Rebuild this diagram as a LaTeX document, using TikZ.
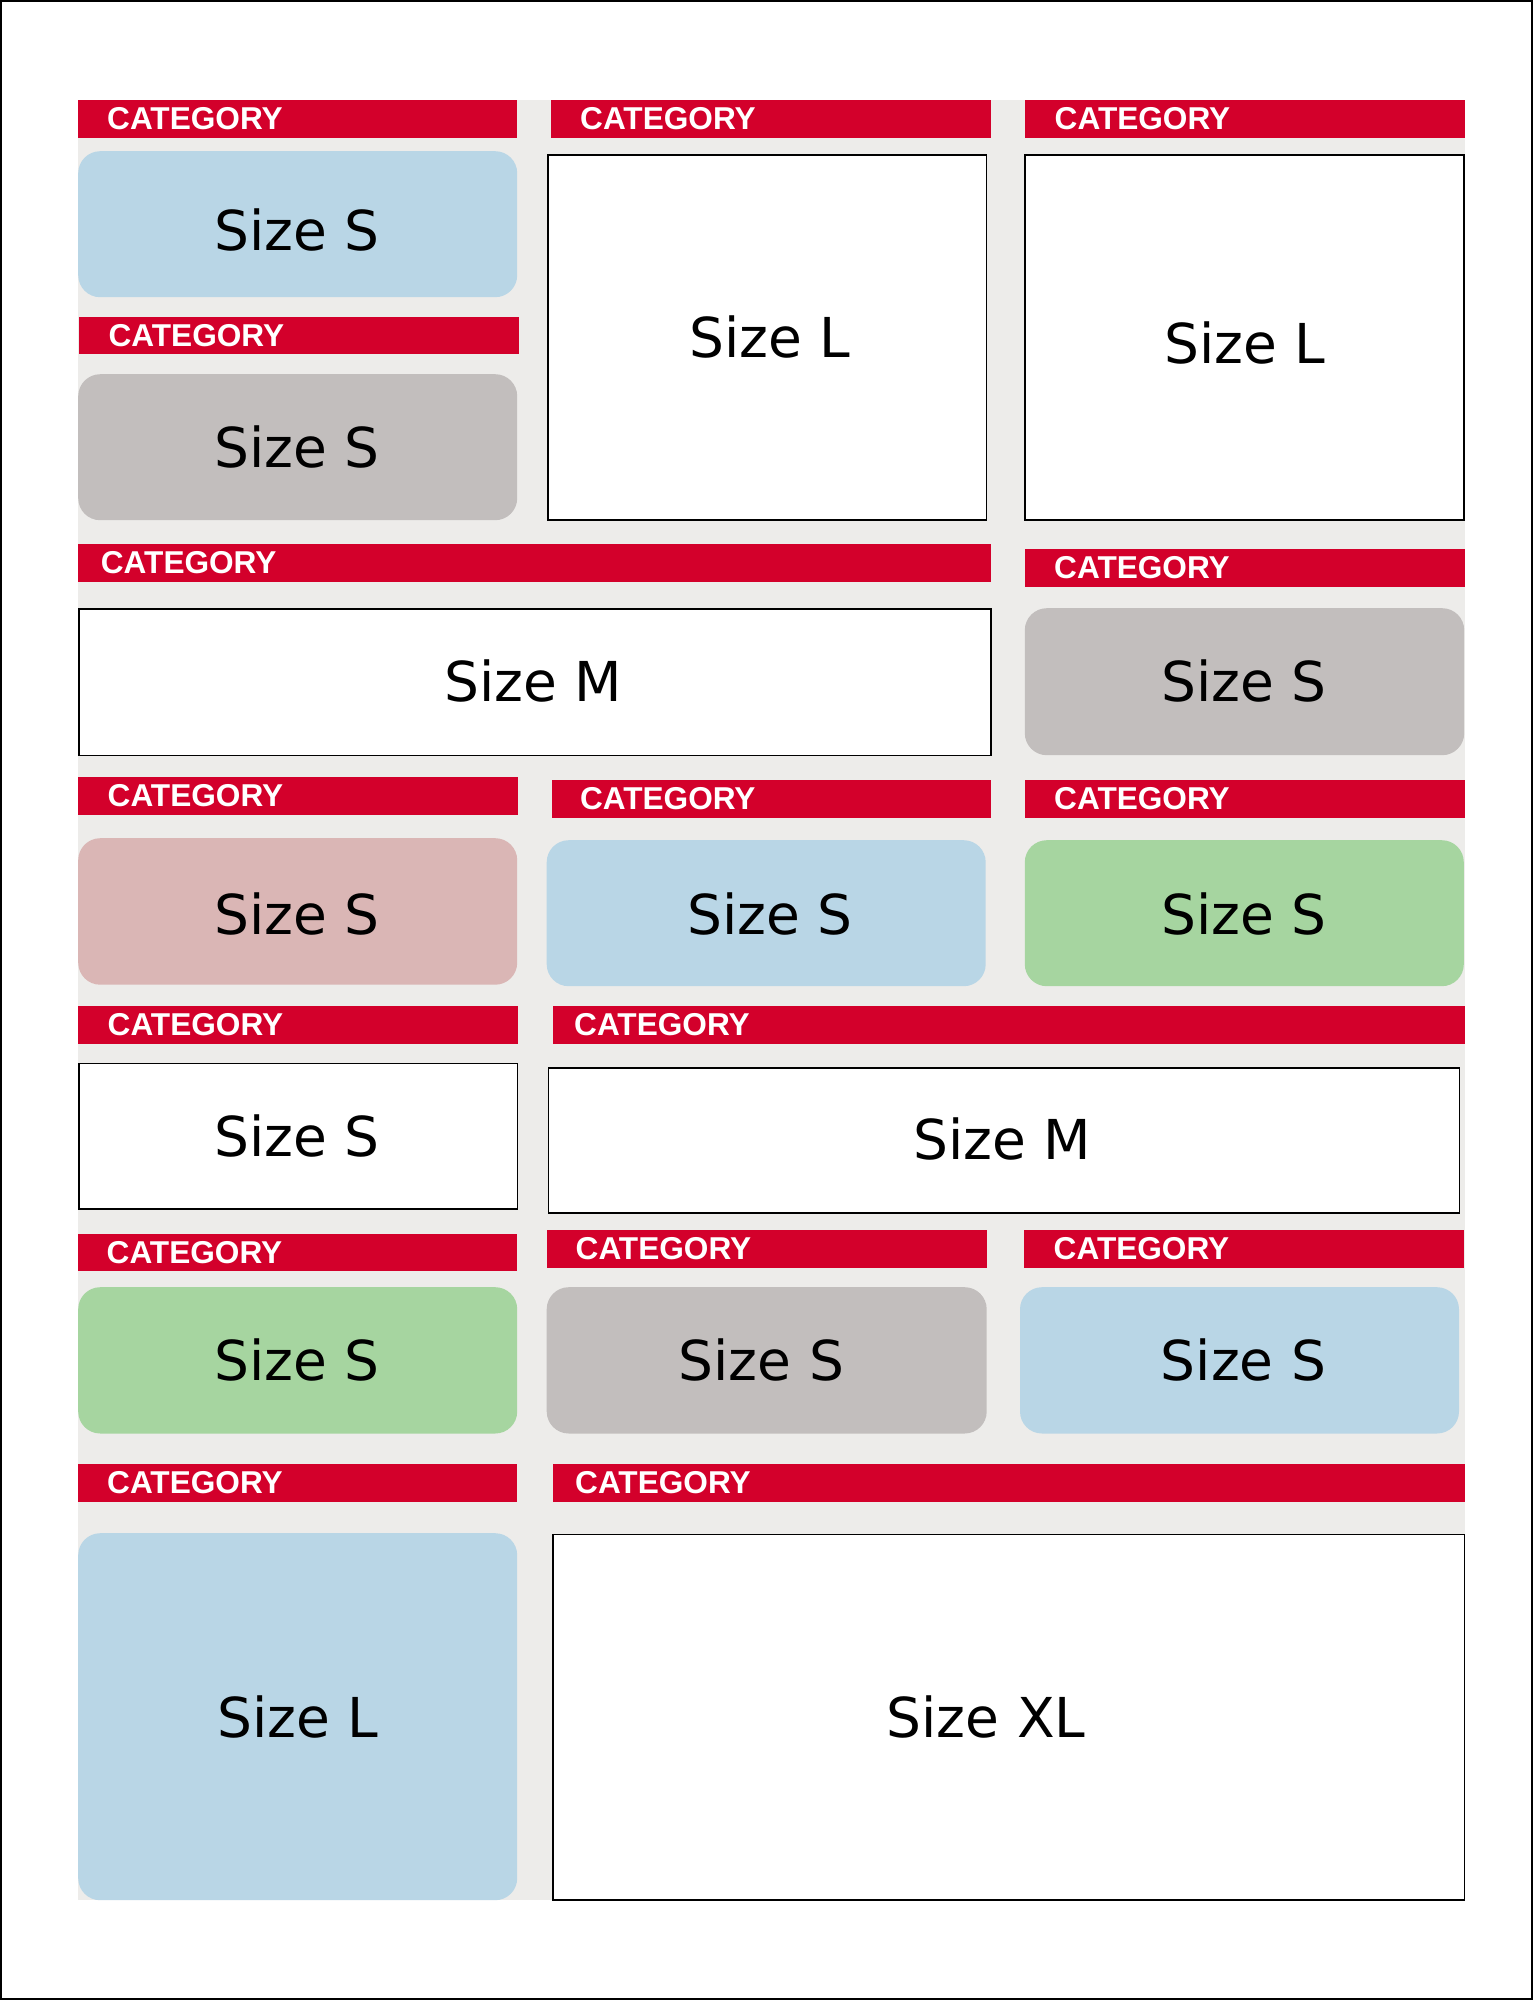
\documentclass[tikz,border=0pt]{standalone}
\usepackage{fontspec}
\newfontfamily\sizefont{DejaVu Sans}
\newfontfamily\catfont{Liberation Sans}
\definecolor{catred}{RGB}{211,0,43}
\definecolor{bgray}{RGB}{237,236,234}
\definecolor{cblue}{RGB}{185,214,230}
\definecolor{cgray}{RGB}{194,190,189}
\definecolor{cpink}{RGB}{218,182,181}
\definecolor{cgreen}{RGB}{166,213,160}
\tikzset{
  barbox/.style={fill=catred, inner sep=0pt, anchor=north west},
  cattext/.style={text=white, inner sep=0pt, anchor=west, font=\catfont\bfseries\fontsize{31.6}{35}\selectfont},
  roundbox/.style={inner sep=0pt, anchor=north west, rounded corners=22pt},
  whitebox/.style={draw=black, line width=1.5pt, fill=white, inner sep=0pt, anchor=north west},
  sizetext/.style={inner sep=0pt, anchor=center, text=black, font=\sizefont\fontsize{55}{60}\selectfont}
}
% name, x1, y1, x2, y2, text x
\newcommand\cbar[6]{%
  \node[barbox, minimum width={#4-#2}, minimum height={#5-#3}] (#1) at (#2,#3) {};
  \node[cattext] (#1t) at (#6,{(#3+#5)/2}) {CATEGORY};
}
% name, style, x1, y1, x2, y2, tx, ty, text
\newcommand\cbox[9]{%
  \node[#2, minimum width={#5-#3}, minimum height={#6-#4}] (#1) at (#3,#4) {};
  \node[sizetext] (#1t) at (#7,#8) {#9};
}
\begin{document}
\begin{tikzpicture}[x=1pt,y=-1pt]
\useasboundingbox (0,0) rectangle (1533,2000);
\fill[white] (0,0) rectangle (1533,2000);
\draw[line width=2pt] (1,1) rectangle (1532,1999);
\fill[bgray] (78,100) rectangle (1465,1900);
% category bars
\cbar{r1a}{78}{100}{517}{138}{107}
\cbar{r1b}{551}{100}{991}{138}{580}
\cbar{r1c}{1025}{100}{1465}{138}{1054.5}
\cbar{r2a}{79}{316.5}{518.5}{354}{108.4}
\cbar{r3a}{78}{544}{990.5}{582}{100.7}
\cbar{r3c}{1025}{549}{1465}{587}{1054}
\cbar{r4a}{78}{777}{518}{815}{107.5}
\cbar{r4b}{551.4}{779.3}{990.4}{817.3}{579.8}
\cbar{r4c}{1025}{779.3}{1465}{817.3}{1054}
\cbar{r5a}{78}{1006}{518}{1044}{107.5}
\cbar{r5b}{552.4}{1006}{1465}{1044}{574}
\cbar{r6a}{78}{1234}{517}{1271}{106.5}
\cbar{r6b}{546.5}{1230}{986.5}{1268}{575.5}
\cbar{r6c}{1024}{1230}{1464}{1268}{1053.5}
\cbar{r7a}{78}{1464}{517}{1502}{107}
\cbar{r7b}{552.4}{1464}{1465}{1502}{575}
% boxes
\cbox{b1}{roundbox, fill=cblue}{78}{151}{517}{297}{297}{230}{Size S}
\cbox{b2}{roundbox, fill=cgray}{78}{374}{517}{520}{297}{447}{Size S}
\cbox{b3}{whitebox}{547}{154}{985.5}{519.3}{770}{337}{Size L}
\cbox{b4}{whitebox}{1024.4}{154}{1463}{519.3}{1245}{343}{Size L}
\cbox{b5}{whitebox}{78}{608}{990}{754.5}{533}{681}{Size M}
\cbox{b6}{roundbox, fill=cgray}{1024.6}{608}{1464}{755}{1244}{681}{Size S}
\cbox{b7}{roundbox, fill=cpink}{78}{838}{517}{984.5}{297}{913.5}{Size S}
\cbox{b8}{roundbox, fill=cblue}{546.5}{840}{985.5}{986}{770}{913.5}{Size S}
\cbox{b9}{roundbox, fill=cgreen}{1024.6}{840}{1463.6}{986}{1244}{913.5}{Size S}
\cbox{b10}{whitebox}{78}{1062.5}{516.5}{1208}{297}{1135.5}{Size S}
\cbox{b11}{whitebox}{547.5}{1067}{1458.8}{1212.3}{1002.5}{1139}{Size M}
\cbox{b12}{roundbox, fill=cgreen}{78}{1287}{517}{1433.3}{297}{1360}{Size S}
\cbox{b13}{roundbox, fill=cgray}{546.5}{1287}{986.5}{1433.3}{761.4}{1360}{Size S}
\cbox{b14}{roundbox, fill=cblue}{1019.8}{1287}{1458.8}{1433.3}{1243.5}{1360}{Size S}
\cbox{b15}{roundbox, fill=cblue}{78}{1533}{517}{1900}{298}{1717}{Size L}
\cbox{b16}{whitebox}{552.4}{1533.6}{1463.6}{1899.4}{986}{1717}{Size XL}
\end{tikzpicture}
\end{document}
